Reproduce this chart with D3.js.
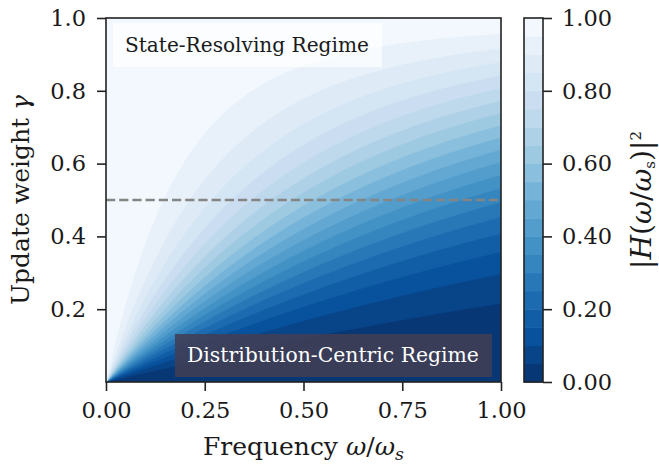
<!DOCTYPE html>
<html>
<head>
<meta charset="utf-8">
<script src="https://cdn.jsdelivr.net/npm/d3@7"></script>
<style>
  html, body { margin: 0; padding: 0; background: #ffffff; }
  svg { display: block; }
</style>
</head>
<body>
<svg id="chart" width="659" height="474"></svg>
<script>
// Axis ranges and ticks
const freqDomain = [0, 1];
const gammaDomain = [0, 1];
const xTicks = [0, 0.25, 0.5, 0.75, 1.0];
const yTicks = [0.2, 0.4, 0.6, 0.8, 1.0];
const cbTicks = [0, 0.2, 0.4, 0.6, 0.8, 1.0];

// Contour levels of |H|^2 (0.00 .. 1.00 in steps of 0.05)
const levels = d3.range(0, 21).map(i => +(i * 0.05).toFixed(2));

// Reference line and region annotations
const gammaRef = 0.5;
const regimeLabels = ["State-Resolving Regime", "Distribution-Centric Regime"];

// Digital frequency (rad/sample) reached at the right edge of the frequency axis
const omegaMax = 1.12;

// Grid resolution used to sample the response surface
const gridNx = 395, gridNy = 364;

// Squared magnitude response of the exponential moving-average update
// y[n] = gamma * x[n] + (1 - gamma) * y[n-1]
function powerResponse(f, g) {
  const w = omegaMax * f;
  const a = 1 - g;
  return (g * g) / (1 - 2 * a * Math.cos(w) + a * a);
}

const SERIF = '"DejaVu Serif", serif';
const INK = "#1a1a1a";

// Matplotlib "Blues" (piecewise linear over the ColorBrewer stops), reversed
const bluesStops = ["#f7fbff", "#deebf7", "#c6dbef", "#9ecae1", "#6baed6",
                    "#4292c6", "#2171b5", "#08519c", "#08306b"];
const blues = d3.scaleLinear()
  .domain(d3.range(bluesStops.length).map(i => i / (bluesStops.length - 1)))
  .range(bluesStops)
  .interpolate(d3.interpolateRgb);
const bandColor = t => blues(1 - t);

// Shrink/grow a text's font so that it spans the given width
function fitWidth(sel, width) {
  const node = sel.node();
  const base = parseFloat(sel.style("font-size"));
  const w = node.getComputedTextLength();
  if (w > 0) sel.style("font-size", (base * width / w).toFixed(2) + "px");
  return sel;
}

const svg = d3.select("#chart");
const plot = { left: 106, right: 501, top: 18, bottom: 382 };
const cbar = { left: 524, right: 543, top: 18, bottom: 382 };

const x = d3.scaleLinear().domain(freqDomain).range([plot.left, plot.right]);
const y = d3.scaleLinear().domain(gammaDomain).range([plot.bottom, plot.top]);

// Sample the surface on cell centres
const values = new Float64Array(gridNx * gridNy);
for (let j = 0; j < gridNy; j++) {
  const g = gammaDomain[0] + (j + 0.5) / gridNy * (gammaDomain[1] - gammaDomain[0]);
  for (let i = 0; i < gridNx; i++) {
    const f = freqDomain[0] + (i + 0.5) / gridNx * (freqDomain[1] - freqDomain[0]);
    values[j * gridNx + i] = powerResponse(f, g);
  }
}

const bandLevels = levels.slice(0, -1);
const contours = d3.contours().size([gridNx, gridNy]).thresholds(bandLevels)(values);

// Grid coordinates -> pixel coordinates
const gridToPx = d3.geoTransform({
  point: function (gx, gy) {
    this.stream.point(x(gx / gridNx), y(gy / gridNy));
  }
});
const path = d3.geoPath(gridToPx);

svg.append("defs").append("clipPath").attr("id", "plotClip")
  .append("rect")
  .attr("x", plot.left).attr("y", plot.top)
  .attr("width", plot.right - plot.left).attr("height", plot.bottom - plot.top);

const field = svg.append("g").attr("clip-path", "url(#plotClip)");
field.selectAll("path.band")
  .data(contours)
  .join("path")
  .attr("class", "band")
  .attr("d", path)
  .attr("fill", (d, i) => bandColor((bandLevels[i] + levels[i + 1]) / 2))
  .attr("stroke", (d, i) => bandColor((bandLevels[i] + levels[i + 1]) / 2))
  .attr("stroke-width", 0.6);

// Dashed reference at gamma = 0.5
field.append("line")
  .attr("x1", x(freqDomain[0])).attr("x2", x(freqDomain[1]))
  .attr("y1", y(gammaRef)).attr("y2", y(gammaRef))
  .attr("stroke", "#858585")
  .attr("stroke-width", 2.5)
  .attr("stroke-dasharray", "9.2,4");

// Region annotations
const topLabel = field.append("g");
topLabel.append("rect")
  .attr("x", 113).attr("y", 23).attr("width", 269).attr("height", 44)
  .attr("fill", "rgba(255,255,255,0.7)");
fitWidth(topLabel.append("text")
  .attr("x", 125).attr("y", 52)
  .style("font-family", SERIF).style("font-size", "22px")
  .style("fill", INK)
  .text(regimeLabels[0]), 244);

const botLabel = field.append("g");
botLabel.append("rect")
  .attr("x", 175).attr("y", 334).attr("width", 317).attr("height", 43)
  .attr("fill", "rgba(66,62,84,0.87)");
fitWidth(botLabel.append("text")
  .attr("x", 187).attr("y", 362)
  .style("font-family", SERIF).style("font-size", "22px")
  .style("fill", "#ffffff")
  .text(regimeLabels[1]), 292);

// Axes
const xAxis = d3.axisBottom(x).tickValues(xTicks).tickFormat(d3.format(".2f"))
  .tickSize(9).tickPadding(10);
const yAxis = d3.axisLeft(y).tickValues(yTicks).tickFormat(d3.format(".1f"))
  .tickSize(9).tickPadding(11);

const gx = svg.append("g").attr("transform", `translate(0,${plot.bottom})`).call(xAxis);
const gy = svg.append("g").attr("transform", `translate(${plot.left},0)`).call(yAxis);
[gx, gy].forEach(g => {
  g.attr("font-family", null);
  g.select(".domain").remove();
  g.selectAll(".tick line").attr("stroke", "#222").attr("stroke-width", 1.6);
  g.selectAll(".tick text")
    .style("font-family", SERIF)
    .style("font-size", "22.5px")
    .style("fill", INK);
});
gx.selectAll(".tick text").attr("dy", "0.76em");

svg.append("rect")
  .attr("x", plot.left).attr("y", plot.top)
  .attr("width", plot.right - plot.left).attr("height", plot.bottom - plot.top)
  .attr("fill", "none").attr("stroke", "#222").attr("stroke-width", 1.6);

// Axis titles
const xTitle = svg.append("text")
  .attr("x", (plot.left + plot.right) / 2).attr("y", 455)
  .attr("text-anchor", "middle")
  .style("font-family", SERIF).style("font-size", "23px").style("fill", INK);
xTitle.append("tspan").text("Frequency ");
xTitle.append("tspan").style("font-style", "italic").text("ω");
xTitle.append("tspan").text("/");
xTitle.append("tspan").style("font-style", "italic").text("ω");
xTitle.append("tspan").style("font-style", "italic").style("font-size", "16px").attr("dy", 5).text("s");
fitWidth(xTitle, 201);
xTitle.selectAll("tspan").filter(function () { return this.textContent === "s"; })
  .style("font-size", (parseFloat(xTitle.style("font-size")) * 0.7).toFixed(2) + "px");

const yTitle = svg.append("text")
  .attr("transform", `translate(29,${(plot.top + plot.bottom) / 2}) rotate(-90)`)
  .attr("text-anchor", "middle")
  .style("font-family", SERIF).style("font-size", "23px").style("fill", INK);
yTitle.append("tspan").text("Update weight ");
yTitle.append("tspan").style("font-style", "italic").text("γ");
fitWidth(yTitle, 210);

// Colorbar
const cy = d3.scaleLinear().domain([levels[0], levels[levels.length - 1]])
  .range([cbar.bottom, cbar.top]);
svg.append("g").selectAll("rect")
  .data(bandLevels)
  .join("rect")
  .attr("x", cbar.left)
  .attr("width", cbar.right - cbar.left)
  .attr("y", (d, i) => cy(levels[i + 1]))
  .attr("height", (d, i) => cy(d) - cy(levels[i + 1]) + 0.5)
  .attr("fill", (d, i) => bandColor((d + levels[i + 1]) / 2));
svg.append("rect")
  .attr("x", cbar.left).attr("y", cbar.top)
  .attr("width", cbar.right - cbar.left).attr("height", cbar.bottom - cbar.top)
  .attr("fill", "none").attr("stroke", "#222").attr("stroke-width", 1.6);

const cAxis = d3.axisRight(cy).tickValues(cbTicks).tickFormat(d3.format(".2f"))
  .tickSize(9).tickPadding(10);
const gc = svg.append("g").attr("transform", `translate(${cbar.right},0)`).call(cAxis);
gc.attr("font-family", null);
gc.select(".domain").remove();
gc.selectAll(".tick line").attr("stroke", "#222").attr("stroke-width", 1.6);
gc.selectAll(".tick text")
  .style("font-family", SERIF)
  .style("font-size", "22.5px")
  .style("fill", INK);

const cTitle = svg.append("text")
  .attr("transform", `translate(651,${(cbar.top + cbar.bottom) / 2}) rotate(-90)`)
  .attr("text-anchor", "middle")
  .style("font-family", SERIF).style("font-size", "23px").style("fill", INK);
cTitle.append("tspan").text("|");
cTitle.append("tspan").style("font-style", "italic").text("H");
cTitle.append("tspan").text("(");
cTitle.append("tspan").style("font-style", "italic").text("ω");
cTitle.append("tspan").text("/");
cTitle.append("tspan").style("font-style", "italic").text("ω");
cTitle.append("tspan").style("font-size", "15px").attr("dy", 4).text("s");
cTitle.append("tspan").attr("dy", -4).text(")|");
cTitle.append("tspan").style("font-size", "15px").attr("dy", -10).text("2");
fitWidth(cTitle, 142);
</script>
</body>
</html>
